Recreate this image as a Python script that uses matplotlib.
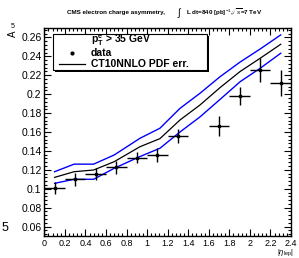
import matplotlib
matplotlib.use("Agg")
import matplotlib.pyplot as plt
from matplotlib.patches import Rectangle
from matplotlib.lines import Line2D
from matplotlib.ticker import MultipleLocator, FixedLocator

plt.rcParams['font.family'] = ['Liberation Sans', 'DejaVu Sans']
plt.rcParams['mathtext.fontset'] = 'custom'
plt.rcParams['mathtext.rm'] = 'Liberation Sans'
plt.rcParams['mathtext.it'] = 'Liberation Sans:italic'
plt.rcParams['mathtext.bf'] = 'Liberation Sans:bold'

# ---- data ----
eta = [0.1, 0.3, 0.5, 0.7, 0.9, 1.1, 1.3, 1.7, 1.9, 2.1, 2.3]
eta_err = [0.1, 0.1, 0.1, 0.1, 0.1, 0.1, 0.1, 0.1, 0.1, 0.1, 0.1]
asym = [0.101, 0.110, 0.1155, 0.1226, 0.1328, 0.1357, 0.156, 0.1664, 0.198, 0.2256, 0.2115]
asym_err = [0.0062, 0.0067, 0.0062, 0.0070, 0.0058, 0.0070, 0.0076, 0.0106, 0.0097, 0.0124, 0.0136]

theory_eta = [0.1, 0.29, 0.48, 0.68, 0.93, 1.125, 1.32, 1.515, 1.71, 1.905, 2.1, 2.3]
theory_central = [0.112, 0.118, 0.1198, 0.1286, 0.1444, 0.153, 0.1727, 0.1886, 0.207, 0.224, 0.238, 0.2528]
theory_upper = [0.118, 0.126, 0.126, 0.1357, 0.1533, 0.164, 0.185, 0.201, 0.2185, 0.234, 0.2478, 0.2627]
theory_lower = [0.1057, 0.110, 0.110, 0.1216, 0.134, 0.1428, 0.160, 0.176, 0.1945, 0.2132, 0.2274, 0.2433]

y_ticks = [0.06, 0.08, 0.1, 0.12, 0.14, 0.16, 0.18, 0.2, 0.22, 0.24, 0.26]
y_tick_labels = ['0.06', '0.08', '0.1', '0.12', '0.14', '0.16', '0.18', '0.2', '0.22', '0.24', '0.26']
x_ticks = [0, 0.2, 0.4, 0.6, 0.8, 1.0, 1.2, 1.4, 1.6, 1.8, 2.0, 2.2, 2.4]
x_tick_labels = ['0', '0.2', '0.4', '0.6', '0.8', '1', '1.2', '1.4', '1.6', '1.8', '2', '2.2', '2.4']

W, H = 299, 258
fig = plt.figure(figsize=(W / 100, H / 100), dpi=100)

def fx(px):
    return px / W

def fy(py):
    return 1 - py / H

left, right, top, bottom = 44.3, 291.0, 28.0, 236.0
ax = fig.add_axes([fx(left), fy(bottom), fx(right) - fx(left), fy(top) - fy(bottom)])
ax.set_xlim(0, 2.4)
ax.set_ylim(0.05, 0.27)

ax.plot(theory_eta, theory_upper, color='#0000ff', lw=1.0)
ax.plot(theory_eta, theory_lower, color='#0000ff', lw=1.0)
ax.plot(theory_eta, theory_central, color='black', lw=0.9)
ax.errorbar(eta, asym, xerr=eta_err, yerr=asym_err, fmt='s', color='black',
            ms=1.8, elinewidth=1.0, capsize=0)

ax.xaxis.set_major_locator(FixedLocator(x_ticks))
ax.set_xticklabels(x_tick_labels)
ax.xaxis.set_minor_locator(MultipleLocator(0.04))
ax.yaxis.set_major_locator(FixedLocator(y_ticks))
ax.set_yticklabels(y_tick_labels)
ax.yaxis.set_minor_locator(MultipleLocator(0.004))
ax.tick_params(which='both', direction='in', top=True, right=True, width=0.8, colors='black')
ax.tick_params(which='major', length=5)
ax.tick_params(which='minor', length=2.5)
ax.tick_params(axis='x', labelsize=6.5, pad=2)
ax.tick_params(axis='y', labelsize=7.5, pad=2)
for s in ax.spines.values():
    s.set_linewidth(1.0)

# axis titles
fig.text(fx(285), fy(253), r'$|\eta_{\mathrm{lep}}|$', fontsize=5.5, ha='center', va='center')
fig.text(fx(13), fy(34), 'A', fontsize=7, rotation=90, ha='center', va='center')
fig.text(fx(13), fy(26), '5', fontsize=5, ha='center', va='center')
fig.text(fx(5), fy(228), '5', fontsize=9, ha='center', va='center')

# title
fig.text(fx(116), fy(12.5), 'CMS electron charge asymmetry,', fontsize=4.5,
         fontweight='bold', ha='center', va='center')
fig.text(fx(180), fy(12.5), r'$\int$', fontsize=7, ha='center', va='center')
fig.text(fx(224), fy(12.5), r'L dt=840 [pb]$^{-1}$,$\sqrt{s}$=7 TeV', fontsize=4.5,
         fontweight='bold', ha='center', va='center')

# legend box with shadow
bx0, by0, bx1, by1 = 53, 34, 207, 70
fig.add_artist(Rectangle((fx(bx0 + 2), fy(by1 + 2)), fx(bx1 - bx0), fy(by0) - fy(by1),
                         transform=fig.transFigure, facecolor='black', edgecolor='black', lw=0))
fig.add_artist(Rectangle((fx(bx0), fy(by1)), fx(bx1 - bx0), fy(by0) - fy(by1),
                         transform=fig.transFigure, facecolor='white', edgecolor='black', lw=0.8))
fig.text(fx(91), fy(40), r'p$_{\mathbf{T}}^{\mathbf{e}}$ > 35 GeV', fontsize=7.5, fontweight='bold',
         ha='left', va='center')
fig.add_artist(Line2D([fx(72)], [fy(52.5)], marker='o', ms=2.0, color='black',
                      transform=fig.transFigure))
fig.text(fx(91), fy(52.5), 'data', fontsize=7.5, fontweight='bold', ha='left', va='center')
fig.add_artist(Line2D([fx(59), fx(85)], [fy(64), fy(64)], color='black', lw=0.9,
                      transform=fig.transFigure))
fig.text(fx(91), fy(64), 'CT10NNLO PDF err.', fontsize=7.5, fontweight='bold',
         ha='left', va='center')

fig.savefig('out.png', dpi=100)
